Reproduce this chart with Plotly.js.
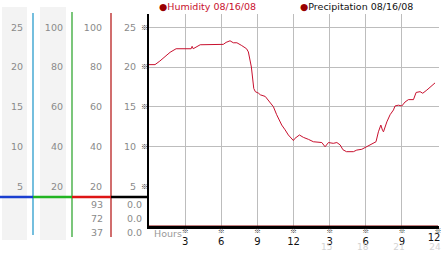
<!DOCTYPE html>
<html>
<head>
<meta charset="utf-8">
<script src="https://cdn.plot.ly/plotly-3.0.1.min.js"></script>
<style>html,body{margin:0;padding:0;background:#fff;}#chart{width:442px;height:253px;}</style>
</head>
<body>
<div id="chart"></div>
<script>
// ---- data ----
var hours = [0.0,0.5,0.9,1.33,1.75,2.25,2.75,3.5,3.58,3.67,4.25,5.0,6.17,6.4,6.73,7.0,7.3,7.7,8.1,8.25,8.5,8.7,8.83,9.1,9.25,9.65,10.05,10.33,10.6,11.02,11.3,11.57,11.99,12.1,12.49,12.82,13.24,13.65,14.35,14.62,14.9,15.3,15.6,15.87,16.1,16.4,16.97,17.25,17.67,18.08,18.5,18.85,19.05,19.25,19.4,19.47,19.75,20.02,20.3,20.43,20.71,20.99,21.26,21.54,21.96,22.18,22.51,22.73,23.07,23.34,23.75];
var humidity = [20.3,20.3,20.75,21.3,21.85,22.3,22.3,22.3,22.6,22.3,22.8,22.85,22.85,23.1,23.3,23.05,23.05,22.7,22.3,21.9,20.0,17.3,16.9,16.7,16.5,16.3,15.6,15.0,14.0,12.7,12.1,11.45,10.75,11.0,11.45,11.15,10.9,10.6,10.5,9.97,10.5,10.4,10.5,10.2,9.6,9.35,9.35,9.55,9.65,9.97,10.3,10.6,11.85,12.7,12.0,11.85,13.1,14.0,14.6,15.1,15.2,15.1,15.6,15.9,15.9,16.8,16.9,16.7,17.1,17.5,18.0];
var precipHours = [0, 24];
var precipitation = [0, 0];
var seriesNames = ['Humidity 08/16/08', 'Precipitation 08/16/08'];

var xTickVals = [3,6,9,12,15,18,21];
var xTickText = ['3','6','9','12','3','6','9'];
var xLastVal = [24];
var xLastText = ['12'];
var xMarkVals = [3,6,9,12,15,18,21,24];
var xFaintVals = [15,18,21,24];
var xFaintText = ['15','18','21','24'];

var scaleA = [5,10,15,20,25];       // columns 1 and 4
var scaleB = [20,40,60,80,100];     // columns 2 and 3
var gridVals = [10,15,20,25];
var statCol3 = ['93','72','37'];
var statCol4 = ['0.0','0.0','0.0'];

// ---- helpers ----
var W = 442, H = 253, T = 14, B = 27;
var plotH = H - T - B;
function px(x){ return x / W; }
function py(y){ return (H - B - y) / plotH; }

var gray = '#8a8a8a';
var fnt = 'DejaVu Sans, sans-serif';
var markFnt = 'Noto Sans CJK JP, DejaVu Sans, sans-serif';
var yMax = 26.67;
var xR = [0, 24.08];

var traces = [
  {x: hours, y: humidity, type: 'scatter', mode: 'lines', line: {color: '#c8102e', width: 1}, hoverinfo: 'skip', showlegend: false},
  {x: precipHours, y: precipitation, type: 'scatter', mode: 'lines', line: {color: '#880000', width: 1}, hoverinfo: 'skip', showlegend: false},
  {x: [0], y: [null], yaxis: 'y2', showlegend: false, hoverinfo: 'skip'},
  {x: [0], y: [null], yaxis: 'y3', showlegend: false, hoverinfo: 'skip'},
  {x: [0], y: [null], yaxis: 'y4', showlegend: false, hoverinfo: 'skip'},
  {x: [0], y: [null], yaxis: 'y5', showlegend: false, hoverinfo: 'skip'},
  {x: [0], y: [null], yaxis: 'y6', showlegend: false, hoverinfo: 'skip'},
  {x: [0], y: [null], xaxis: 'x2', showlegend: false, hoverinfo: 'skip'},
  {x: [0], y: [null], xaxis: 'x3', showlegend: false, hoverinfo: 'skip'},
  {x: [0], y: [null], xaxis: 'x4', showlegend: false, hoverinfo: 'skip'}
];

function freeAxis(pos, range, vals){
  return {anchor: 'free', overlaying: 'y', side: 'left', position: pos, range: range,
    tickvals: vals, ticks: '', showgrid: false, showline: false, zeroline: false,
    tickfont: {family: fnt, size: 9.5, color: gray}, fixedrange: true};
}
function overX(vals, text, standoff, shift, font){
  return {overlaying: 'x', anchor: 'y', side: 'bottom', range: xR, tickvals: vals, ticktext: text,
    ticks: '', showgrid: false, zeroline: false, showline: false, ticklabelstandoff: standoff,
    ticklabelshift: shift, ticklabeloverflow: 'allow', tickfont: font, fixedrange: true};
}

var annotations = [];
var statY = [204, 218, 232];
for (var i = 0; i < 3; i++) {
  annotations.push({xref: 'paper', yref: 'paper', x: px(105), y: py(statY[i]), xanchor: 'right', yanchor: 'middle',
    text: statCol3[i], showarrow: false, font: {family: fnt, size: 9.5, color: gray}});
  annotations.push({xref: 'paper', yref: 'paper', x: px(144), y: py(statY[i]), xanchor: 'right', yanchor: 'middle',
    text: statCol4[i], showarrow: false, font: {family: fnt, size: 9.5, color: gray}});
}
annotations.push({xref: 'paper', yref: 'paper', x: px(152), y: py(233), xanchor: 'left', yanchor: 'middle',
  text: 'Hours', showarrow: false, font: {family: fnt, size: 9.5, color: '#999'}});
annotations.push({xref: 'paper', yref: 'paper', x: px(157), y: py(6.5), xanchor: 'left', yanchor: 'middle',
  text: '<span style="color:#990000">●</span>' + seriesNames[0], showarrow: false, font: {family: fnt, size: 9.5, color: '#c8102e'}});
annotations.push({xref: 'paper', yref: 'paper', x: px(298), y: py(6.5), xanchor: 'left', yanchor: 'middle',
  text: '<span style="color:#990000">●</span>' + seriesNames[1], showarrow: false, font: {family: fnt, size: 9.5, color: '#111'}});

function vline(x, y0, y1, c){ return {type: 'line', xref: 'paper', yref: 'paper', x0: px(x), x1: px(x), y0: py(y0), y1: py(y1), line: {color: c, width: 1.3}}; }
function hline(x0, x1, y, c){ return {type: 'line', xref: 'paper', yref: 'paper', x0: px(x0), x1: px(x1), y0: py(y), y1: py(y), line: {color: c, width: 2.5}}; }
function rect(x0, x1, y0, y1, c){ return {type: 'rect', xref: 'paper', yref: 'paper', x0: px(x0), x1: px(x1), y0: py(y0), y1: py(y1), fillcolor: c, line: {width: 0}, layer: 'below'}; }

var shapes = [
  rect(2, 27, 7, 240, '#f3f3f3'),
  rect(40, 66, 7, 240, '#f3f3f3'),
  vline(33, 13, 235, '#2a9ccc'),
  vline(72, 12, 237, '#33a833'),
  vline(111, 13, 237, '#b82020'),
  hline(0, 33, 197, '#1a3fd0'),
  hline(33, 72, 197, '#22b422'),
  hline(72, 111, 197, '#dd1515'),
  hline(111, 149, 197, '#000')
];

var digitFont = {family: fnt, size: 10, color: '#111'};
var markFont = {family: markFnt, size: 7, color: '#222'};

var layout = {
  width: W, height: H,
  margin: {l: 0, r: 0, t: T, b: B, pad: 0},
  paper_bgcolor: '#fff', plot_bgcolor: '#fff',
  showlegend: false,
  xaxis: {domain: [px(149), px(439)], range: xR, tickvals: xTickVals, ticktext: xTickText,
    ticks: '', showgrid: true, gridcolor: '#bdbdbd', gridwidth: 1, zeroline: false,
    showline: true, linecolor: '#000', linewidth: 2.5, ticklabelstandoff: 4,
    tickfont: digitFont, fixedrange: true},
  xaxis2: overX(xMarkVals, xMarkVals.map(function(){ return '※'; }), -1, 0, markFont),
  xaxis3: overX(xFaintVals, xFaintText, 14, -3, {family: fnt, size: 9, color: '#d4d4d4'}),
  xaxis4: overX(xLastVal, xLastText, 4, -4, digitFont),
  yaxis: {range: [0, yMax], tickvals: scaleA, ticks: '', showgrid: false, zeroline: false,
    showline: true, linecolor: '#000', linewidth: 2, ticklabelstandoff: 9,
    tickfont: {family: fnt, size: 9.5, color: gray}, fixedrange: true},
  yaxis2: freeAxis(px(23), [0, yMax], scaleA),
  yaxis3: freeAxis(px(63), [0, yMax * 4], scaleB),
  yaxis4: freeAxis(px(102), [0, yMax * 4], scaleB),
  yaxis5: {overlaying: 'y', anchor: 'x', side: 'left', range: [0, yMax], tickvals: scaleA,
    ticktext: scaleA.map(function(){ return '※'; }), ticks: '', showgrid: false, zeroline: false, showline: false,
    ticklabelstandoff: 0, tickfont: markFont, fixedrange: true},
  yaxis6: {overlaying: 'y', anchor: 'x', side: 'left', range: [0, yMax], tickvals: gridVals,
    showticklabels: false, ticks: '', showgrid: true, gridcolor: '#bdbdbd', gridwidth: 1, zeroline: false, showline: false, fixedrange: true},
  shapes: shapes,
  annotations: annotations
};

Plotly.newPlot('chart', traces, layout, {displayModeBar: false, staticPlot: true});
</script>
</body>
</html>
